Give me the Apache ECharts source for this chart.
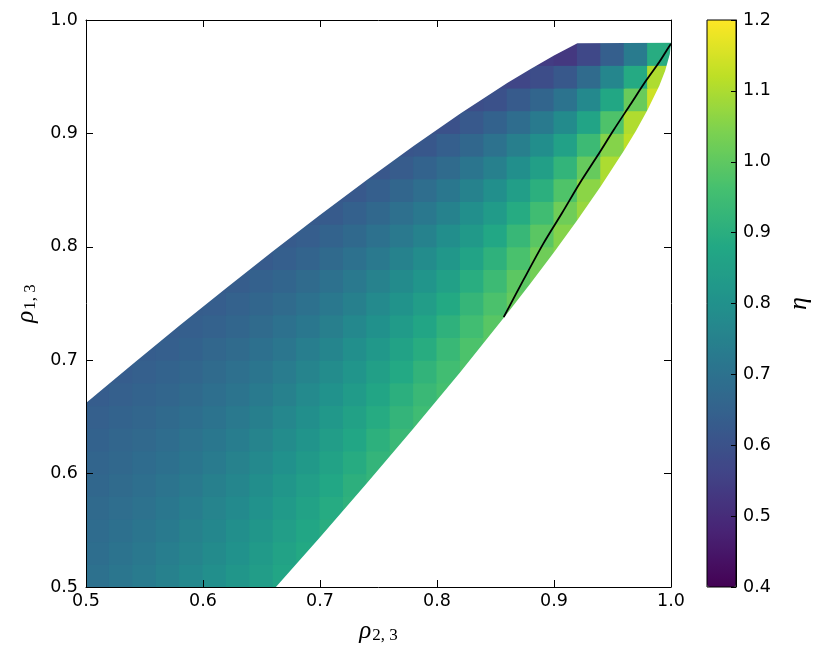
<!DOCTYPE html>
<html>
<head>
<meta charset="utf-8">
<title>eta map</title>
<script src="https://cdn.jsdelivr.net/npm/echarts@6/dist/echarts.min.js"></script>
<style>
  html, body { margin: 0; padding: 0; background: #fff; }
  #chart { width: 822px; height: 661px; }
</style>
</head>
<body>
<div id="chart"></div>
<script>
const _ = null

// cell centres of the eta map, step 0.02 (rho_{2,3} across, rho_{1,3} up)
const rhoCols = [0.51, 0.53, 0.55, 0.57, 0.59, 0.61, 0.63, 0.65, 0.67, 0.69, 0.71, 0.73, 0.75,
  0.77, 0.79, 0.81, 0.83, 0.85, 0.87, 0.89, 0.91, 0.93, 0.95, 0.97, 0.99]
const rhoRows = [0.51, 0.53, 0.55, 0.57, 0.59, 0.61, 0.63, 0.65, 0.67, 0.69, 0.71, 0.73,
  0.75, 0.77, 0.79, 0.81, 0.83, 0.85, 0.87, 0.89, 0.91, 0.93, 0.95, 0.97]

// eta, one line per row (bottom row first), _ = outside the region
const etaRows = [
  [.697, .713, .730, .749, .770, .794, .818, .843, .869, _, _, _, _, _, _, _, _, _, _, _, _, _, _, _, _],
  [.689, .704, .720, .739, .759, .782, .805, .830, .858, .883, _, _, _, _, _, _, _, _, _, _, _, _, _, _, _],
  [.682, .695, .710, .728, .748, .769, .792, .817, .845, .874, .897, _, _, _, _, _, _, _, _, _, _, _, _, _, _],
  [.674, .687, .701, .717, .736, .757, .779, .803, .831, .860, .890, .911, _, _, _, _, _, _, _, _, _, _, _, _, _],
  [.666, .678, .691, .707, .724, .744, .765, .789, .816, .845, .875, .906, .925, _, _, _, _, _, _, _, _, _, _, _, _],
  [.659, .669, .681, .696, .712, .731, .751, .774, .800, .829, .859, .891, .922, .937, _, _, _, _, _, _, _, _, _, _, _],
  [.651, .661, .671, .685, .700, .718, .737, .759, .784, .812, .842, .874, .907, .936, .949, _, _, _, _, _, _, _, _, _, _],
  [.643, .652, .661, .674, .688, .704, .723, .743, .767, .794, .823, .856, .890, .922, .949, _, _, _, _, _, _, _, _, _, _],
  [.635, .643, .652, .663, .676, .691, .708, .727, .750, .776, .804, .835, .870, .903, .937, .962, _, _, _, _, _, _, _, _, _],
  [.635, .635, .642, .652, .663, .677, .694, .711, .732, .757, .784, .815, .848, .882, .918, .954, .976, _, _, _, _, _, _, _, _],
  [_, .635, .634, .641, .651, .664, .678, .695, .715, .738, .763, .793, .825, .859, .895, .934, .972, .990, _, _, _, _, _, _, _],
  [_, _, .634, .634, .639, .650, .663, .678, .697, .718, .742, .770, .801, .834, .870, .910, .952, .990, _, _, _, _, _, _, _],
  [_, _, _, .634, .633, .636, .648, .661, .678, .698, .720, .747, .776, .808, .843, .883, .926, .971, 1.010, _, _, _, _, _, _],
  [_, _, _, _, .633, .632, .633, .645, .660, .677, .698, .722, .751, .781, .815, .853, .897, .944, .996, 1.030, _, _, _, _, _],
  [_, _, _, _, _, .632, .631, .629, .641, .657, .676, .698, .724, .752, .785, .822, .864, .911, .967, 1.023, 1.052, _, _, _, _],
  [_, _, _, _, _, _, _, .629, .627, .636, .652, .673, .697, .723, .753, .789, .829, .875, .931, .993, 1.052, _, _, _, _],
  [_, _, _, _, _, _, _, _, .627, .625, .629, .647, .669, .693, .721, .753, .792, .835, .889, .951, 1.023, 1.076, _, _, _],
  [_, _, _, _, _, _, _, _, _, .625, .622, .621, .640, .661, .687, .717, .752, .793, .844, .903, .977, 1.060, 1.100, _, _],
  [_, _, _, _, _, _, _, _, _, _, _, _, .616, .630, .653, .679, .710, .747, .794, .849, .920, 1.010, 1.100, _, _],
  [_, _, _, _, _, _, _, _, _, _, _, _, _, .611, .617, .640, .667, .700, .741, .790, .854, .943, 1.053, 1.120, _],
  [_, _, _, _, _, _, _, _, _, _, _, _, _, _, .606, .600, .623, .651, .685, .726, .782, .865, .975, 1.104, _],
  [_, _, _, _, _, _, _, _, _, _, _, _, _, _, _, _, .590, .600, .627, .659, .704, .775, .878, 1.015, 1.140],
  [_, _, _, _, _, _, _, _, _, _, _, _, _, _, _, _, _, .579, .566, .588, .619, .677, .766, .886, 1.102],
  [_, _, _, _, _, _, _, _, _, _, _, _, _, _, _, _, _, _, _, .540, .530, .572, .640, .729, .894],
]

// edges of the coloured region
const upperEdgeX = [0.50, 0.54, 0.58, 0.62, 0.66, 0.70, 0.74, 0.78, 0.82, 0.86, 0.88, 0.90, 0.92, 1.00]
const upperEdgeY = [0.6623, 0.6967, 0.7305, 0.7637, 0.7963, 0.8281, 0.859, 0.8889, 0.9175, 0.9444, 0.9569, 0.9687, 0.9796, 0.98]
const lowerEdgeX = [0.64, 0.66, 0.70, 0.74, 0.78, 0.82, 0.86, 0.88, 0.90, 0.92, 0.94, 0.96, 0.97, 0.98, 0.99, 0.995, 0.999, 1.00]
const lowerEdgeY = [0.4743, 0.4973, 0.5439, 0.5914, 0.6399, 0.6897, 0.7412, 0.7679, 0.7953, 0.8236, 0.8533, 0.8851, 0.9022, 0.9208, 0.9421, 0.9552, 0.9701, 0.98]

// black line (eta = 1)
const curveX = [0.857, 0.874, 0.891, 0.907, 0.922, 0.937, 0.951, 0.965, 0.979, 0.990, 0.998, 1.000]
const curveY = [0.738, 0.771, 0.803, 0.830, 0.856, 0.880, 0.903, 0.925, 0.947, 0.963, 0.976, 0.979]

const xTicks = [0.5, 0.6, 0.7, 0.8, 0.9, 1.0]
const yTicks = [0.5, 0.6, 0.7, 0.8, 0.9, 1.0]
const etaTicks = [0.4, 0.5, 0.6, 0.7, 0.8, 0.9, 1.0, 1.1, 1.2]

const viridis = ['#440154', '#482475', '#414487', '#355f8d', '#2a788e', '#21918c',
  '#22a884', '#44bf70', '#7ad151', '#bddf26', '#fde725']

const cellStep = +(rhoCols[1] - rhoCols[0]).toFixed(3)
const cells = []
etaRows.forEach((row, r) => {
  row.forEach((eta, c) => {
    if (eta !== null) cells.push([rhoCols[c], rhoRows[r], eta])
  })
})
const pairs = (xs, ys) => xs.map((x, i) => [x, ys[i]])
const step = ticks => +(ticks[1] - ticks[0]).toFixed(3)

const black = '#000'
const tickLabel = { color: black, fontFamily: 'DejaVu Sans', fontSize: 17.5 }
const rhoRich = {
  r: { fontFamily: 'Liberation Serif', fontStyle: 'italic', fontSize: 25, lineHeight: 28, verticalAlign: 'bottom', color: black },
  s: { fontFamily: 'Liberation Serif', fontSize: 17, lineHeight: 18, verticalAlign: 'bottom', padding: [0, 0, 0, 1], color: black },
}
const frameAxis = {
  type: 'value',
  z: 10,
  axisLine: { show: true, onZero: false, lineStyle: { color: black, width: 1 } },
  axisTick: { inside: true, length: 7, lineStyle: { color: black, width: 1 } },
  splitLine: { show: false },
}

const chart = echarts.init(document.getElementById('chart'))
chart.setOption({
  animation: false,
  backgroundColor: '#fff',
  grid: [
    { left: 86, top: 20, width: 585, height: 567 },
    { left: 707, top: 20, width: 29, height: 567, show: true, z: 10, borderColor: black, borderWidth: 1, backgroundColor: 'transparent' },
  ],
  visualMap: {
    type: 'continuous',
    min: etaTicks[0],
    max: etaTicks[etaTicks.length - 1],
    seriesIndex: 0,
    dimension: 2,
    calculable: false,
    hoverLink: false,
    left: 707,
    top: 20,
    padding: 0,
    itemWidth: 29,
    itemHeight: 567,
    inRange: { color: viridis },
  },
  xAxis: [
    {
      ...frameAxis,
      gridIndex: 0,
      position: 'bottom',
      min: xTicks[0],
      max: xTicks[xTicks.length - 1],
      interval: step(xTicks),
      axisLabel: { ...tickLabel, margin: 5, formatter: v => v.toFixed(1) },
      name: '{r|ρ}{s|2, 3}',
      nameLocation: 'middle',
      nameGap: 29,
      nameTextStyle: { rich: rhoRich },
    },
    {
      ...frameAxis,
      gridIndex: 0,
      position: 'top',
      min: xTicks[0],
      max: xTicks[xTicks.length - 1],
      interval: step(xTicks),
      axisLabel: { show: false },
    },
    { gridIndex: 1, type: 'value', min: 0, max: 1, show: false },
  ],
  yAxis: [
    {
      ...frameAxis,
      gridIndex: 0,
      position: 'left',
      min: yTicks[0],
      max: yTicks[yTicks.length - 1],
      interval: step(yTicks),
      axisLabel: { ...tickLabel, margin: 8, formatter: v => v.toFixed(1) },
      name: '{r|ρ}{s|1, 3}',
      nameLocation: 'middle',
      nameRotate: 90,
      nameGap: 38,
      nameTextStyle: { rich: rhoRich },
    },
    {
      ...frameAxis,
      gridIndex: 0,
      position: 'right',
      min: yTicks[0],
      max: yTicks[yTicks.length - 1],
      interval: step(yTicks),
      axisLabel: { show: false },
    },
    {
      ...frameAxis,
      gridIndex: 1,
      position: 'right',
      min: etaTicks[0],
      max: etaTicks[etaTicks.length - 1],
      interval: step(etaTicks),
      axisTick: { inside: true, length: 5, lineStyle: { color: black, width: 1 } },
      axisLabel: { ...tickLabel, margin: 7, formatter: v => v.toFixed(1) },
      name: 'η',
      nameLocation: 'middle',
      nameRotate: 90,
      nameGap: 50,
      nameTextStyle: { fontFamily: 'Liberation Serif', fontStyle: 'italic', fontSize: 26, color: black },
    },
  ],
  series: [
    {
      type: 'custom',
      xAxisIndex: 0,
      yAxisIndex: 0,
      data: cells,
      encode: { x: 0, y: 1 },
      clip: true,
      silent: true,
      z: 2,
      renderItem: (params, api) => {
        const x = api.value(0)
        const y = api.value(1)
        const a = api.coord([x - cellStep / 2, y + cellStep / 2])
        const b = api.coord([x + cellStep / 2, y - cellStep / 2])
        return {
          type: 'rect',
          shape: { x: a[0] - 0.5, y: a[1] - 0.5, width: b[0] - a[0] + 1, height: b[1] - a[1] + 1 },
          style: { fill: api.visual('color') },
        }
      },
    },
    {
      // white above the upper edge
      type: 'line',
      data: pairs(upperEdgeX, upperEdgeY),
      symbol: 'none',
      silent: true,
      z: 3,
      lineStyle: { width: 0 },
      areaStyle: { color: '#fff', opacity: 1, origin: 'end' },
    },
    {
      // white below the lower edge
      type: 'line',
      data: pairs(lowerEdgeX, lowerEdgeY),
      symbol: 'none',
      silent: true,
      z: 3,
      lineStyle: { width: 0 },
      areaStyle: { color: '#fff', opacity: 1, origin: 'start' },
    },
    {
      type: 'line',
      data: pairs(curveX, curveY),
      symbol: 'none',
      silent: true,
      smooth: 0.3,
      z: 4,
      lineStyle: { color: black, width: 1.8 },
    },
  ],
})
</script>
</body>
</html>
